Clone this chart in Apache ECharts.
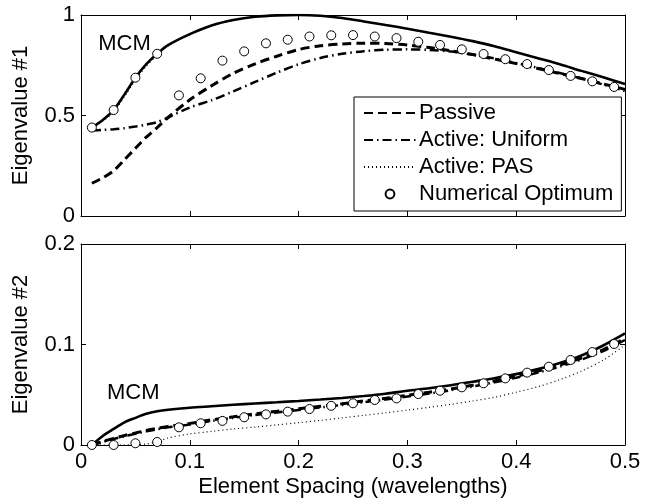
<!DOCTYPE html>
<html>
<head>
<meta charset="utf-8">
<script src="https://cdn.jsdelivr.net/npm/echarts@6/dist/echarts.min.js"></script>
<style>
  html, body { margin: 0; padding: 0; background: #fff; }
  #chart { width: 658px; height: 501px; }
</style>
</head>
<body>
<div id="chart"></div>
<script>
// element spacing (wavelengths) where the curves are sampled
const spacing = [0.01, 0.02, 0.03, 0.04, 0.05, 0.06, 0.07, 0.08, 0.10, 0.12, 0.14, 0.16, 0.18, 0.20,
  0.22, 0.24, 0.26, 0.28, 0.30, 0.32, 0.34, 0.36, 0.38, 0.40, 0.42, 0.44, 0.46, 0.48, 0.50]

// eigenvalue #1
const mcm1 = [0.44, 0.478, 0.527, 0.605, 0.688, 0.755, 0.807, 0.85, 0.905, 0.948, 0.975, 0.991, 0.998, 1.0,
  0.996, 0.985, 0.968, 0.95, 0.932, 0.912, 0.892, 0.87, 0.845, 0.815, 0.785, 0.755, 0.722, 0.69, 0.657]
const passive1 = [0.163, 0.19, 0.225, 0.28, 0.337, 0.392, 0.44, 0.49, 0.578, 0.648, 0.71, 0.757, 0.795, 0.828,
  0.847, 0.856, 0.86, 0.858, 0.851, 0.838, 0.822, 0.803, 0.781, 0.758, 0.734, 0.709, 0.684, 0.657, 0.63]
const uniform1 = [0.425, 0.428, 0.432, 0.437, 0.445, 0.455, 0.467, 0.49, 0.54, 0.576, 0.62, 0.667, 0.713, 0.755,
  0.786, 0.807, 0.82, 0.827, 0.829, 0.826, 0.818, 0.803, 0.784, 0.761, 0.737, 0.711, 0.684, 0.654, 0.622]
const pas1 = [0.44, 0.472, 0.518, 0.594, 0.676, 0.745, 0.8, 0.845, 0.902, 0.946, 0.974, 0.99, 0.997, 0.999,
  0.995, 0.984, 0.967, 0.949, 0.931, 0.911, 0.891, 0.869, 0.844, 0.814, 0.784, 0.754, 0.721, 0.689, 0.656]

// eigenvalue #2
const mcm2 = [0.0, 0.009, 0.016, 0.0226, 0.027, 0.031, 0.0335, 0.035, 0.037, 0.0385, 0.04, 0.0413, 0.0425, 0.0438,
  0.0452, 0.0468, 0.0487, 0.051, 0.054, 0.0565, 0.0595, 0.063, 0.0665, 0.0705, 0.0755, 0.0815, 0.089, 0.099, 0.111]
const passive2 = [0, 0.0035, 0.0066, 0.0095, 0.012, 0.0145, 0.0165, 0.0185, 0.0215, 0.025, 0.028, 0.031, 0.0335, 0.036,
  0.0385, 0.041, 0.0438, 0.0465, 0.0495, 0.0525, 0.0558, 0.0595, 0.0638, 0.0685, 0.0735, 0.0795, 0.0865, 0.095, 0.106]
const uniform2 = [0, 0.003, 0.006, 0.0088, 0.0112, 0.0136, 0.0156, 0.0176, 0.0205, 0.024, 0.027, 0.0299, 0.0324, 0.0349,
  0.0374, 0.0399, 0.0426, 0.0453, 0.0482, 0.0512, 0.0545, 0.0582, 0.0624, 0.067, 0.072, 0.078, 0.085, 0.0935, 0.1045]
const pas2 = [0, 0, 0, 0, 0.0005, 0.001, 0.003, 0.007, 0.011, 0.0135, 0.016, 0.0178, 0.02, 0.0222,
  0.0245, 0.027, 0.0295, 0.032, 0.0347, 0.0375, 0.0405, 0.0438, 0.0475, 0.0525, 0.058, 0.065, 0.0735, 0.0845, 0.0995]

// numerical optimum (circles)
const optSpacing = [0.01, 0.03, 0.05, 0.07, 0.09, 0.11, 0.13, 0.15, 0.17, 0.19, 0.21, 0.23, 0.25,
  0.27, 0.29, 0.31, 0.33, 0.35, 0.37, 0.39, 0.41, 0.43, 0.45, 0.47, 0.49]
const opt1 = [0.44, 0.527, 0.688, 0.807, 0.6, 0.685, 0.773, 0.819, 0.859, 0.877, 0.893, 0.899, 0.9,
  0.893, 0.885, 0.867, 0.851, 0.829, 0.806, 0.78, 0.756, 0.726, 0.697, 0.67, 0.642]
const opt2 = [0, 0, 0.0017, 0.003, 0.0176, 0.0216, 0.024, 0.0276, 0.0305, 0.0332, 0.0358, 0.039, 0.0415,
  0.0448, 0.0464, 0.0507, 0.054, 0.0574, 0.0614, 0.0663, 0.072, 0.0779, 0.0846, 0.0925, 0.1005]

// axis ticks
const xTicks = [0, 0.1, 0.2, 0.3, 0.4, 0.5]
const yTicks1 = [0, 0.5, 1]
const yTicks2 = [0, 0.1, 0.2]

const lineNames = ['Passive', 'Active: Uniform', 'Active: PAS']
const optName = 'Numerical Optimum'
const mcmLabel1 = [0.04, 0.856]
const mcmLabel2 = [0.048, 0.0517]

const FONT = 'Liberation Sans, Arial, Helvetica, sans-serif'
const chart = echarts.init(document.getElementById('chart'))

const pairs = (xs, ys) => xs.map((x, i) => [x, ys[i]])

const curve = (name, grid, ys, lineStyle) => ({
  name,
  type: 'line',
  xAxisIndex: grid * 2,
  yAxisIndex: grid * 2,
  data: pairs(spacing, ys),
  symbol: 'none',
  smooth: 0.3,
  silent: true,
  lineStyle: Object.assign({ color: '#000' }, lineStyle),
  itemStyle: { color: '#000' },
})

const optimum = (grid, ys) => ({
  name: optName,
  type: 'line',
  xAxisIndex: grid * 2,
  yAxisIndex: grid * 2,
  data: pairs(optSpacing, ys),
  symbol: 'circle',
  symbolSize: 9,
  showSymbol: true,
  silent: true,
  z: 5,
  lineStyle: { width: 0, opacity: 0 },
  itemStyle: { color: '#fff', borderColor: '#000', borderWidth: 1 },
})

const mcmMark = (coord) => ({
  silent: true,
  symbol: 'circle',
  symbolSize: 1,
  itemStyle: { color: 'rgba(0,0,0,0)' },
  label: { show: true, position: 'inside', formatter: 'MCM', color: '#000', fontSize: 22, fontFamily: FONT },
  data: [{ coord }],
})

const STYLES = {
  mcm: { width: 2.6 },
  passive: { width: 3, type: [9, 5] },
  uniform: { width: 2.5, type: [9, 4, 1.5, 4] },
  pas: { width: 1.2, type: [1, 3] },
}

const xAxisBase = (grid, position, labels, extra) => Object.assign({
  type: 'value',
  gridIndex: grid,
  position,
  min: xTicks[0],
  max: xTicks[xTicks.length - 1],
  interval: xTicks[1] - xTicks[0],
  axisLine: { show: true, onZero: false, lineStyle: { color: '#000', width: 1 } },
  axisTick: { show: true, inside: true, length: 5, lineStyle: { color: '#000' } },
  axisLabel: { show: labels, color: '#000', fontSize: 22, fontFamily: FONT, margin: 6 },
  splitLine: { show: false },
}, extra)

const yAxisBase = (grid, ticks, position, labels, extra) => Object.assign({
  type: 'value',
  gridIndex: grid,
  position,
  min: ticks[0],
  max: ticks[ticks.length - 1],
  interval: ticks[1] - ticks[0],
  axisLine: { show: true, onZero: false, lineStyle: { color: '#000', width: 1 } },
  axisTick: { show: true, inside: true, length: 5, lineStyle: { color: '#000' } },
  axisLabel: { show: labels, color: '#000', fontSize: 22, fontFamily: FONT, margin: 6 },
  splitLine: { show: false },
}, extra)

const yName = (name) => ({
  name,
  nameLocation: 'middle',
  nameGap: 49,
  nameTextStyle: { color: '#000', fontSize: 22, fontFamily: FONT },
})

const option = {
  animation: false,
  backgroundColor: '#fff',
  grid: [
    { left: 81, top: 15, width: 544, height: 201 },
    { left: 81, top: 244, width: 544, height: 201 },
  ],
  legend: {
    // line entries hide the marker in the middle of the icon
    data: lineNames.map((name) => ({ name, itemStyle: { opacity: 0 } })).concat([{ name: optName }]),
    orient: 'vertical',
    left: 354,
    top: 97,
    padding: [5, 8, 6, 9],
    itemGap: 5,
    itemWidth: 52,
    itemHeight: 11,
    backgroundColor: '#fff',
    borderColor: '#000',
    borderWidth: 1,
    borderRadius: 0,
    selectedMode: false,
    textStyle: { color: '#000', fontSize: 22, fontFamily: FONT, padding: [0, 0, 0, -2] },
  },
  xAxis: [
    xAxisBase(0, 'bottom', false),
    xAxisBase(0, 'top', false),
    xAxisBase(1, 'bottom', true, {
      name: 'Element Spacing (wavelengths)',
      nameLocation: 'middle',
      nameGap: 31,
      nameTextStyle: { color: '#000', fontSize: 22, fontFamily: FONT },
    }),
    xAxisBase(1, 'top', false),
  ],
  yAxis: [
    yAxisBase(0, yTicks1, 'left', true, yName('Eigenvalue #1')),
    yAxisBase(0, yTicks1, 'right', false),
    yAxisBase(1, yTicks2, 'left', true, yName('Eigenvalue #2')),
    yAxisBase(1, yTicks2, 'right', false),
  ],
  series: [
    curve('Passive', 0, passive1, STYLES.passive),
    curve('Active: Uniform', 0, uniform1, STYLES.uniform),
    curve('Active: PAS', 0, pas1, STYLES.pas),
    Object.assign(curve('MCM', 0, mcm1, STYLES.mcm), { markPoint: mcmMark(mcmLabel1) }),
    optimum(0, opt1),
    curve('Passive', 1, passive2, STYLES.passive),
    curve('Active: Uniform', 1, uniform2, STYLES.uniform),
    curve('Active: PAS', 1, pas2, STYLES.pas),
    Object.assign(curve('MCM', 1, mcm2, STYLES.mcm), { markPoint: mcmMark(mcmLabel2) }),
    optimum(1, opt2),
  ],
}

chart.setOption(option)
</script>
</body>
</html>
